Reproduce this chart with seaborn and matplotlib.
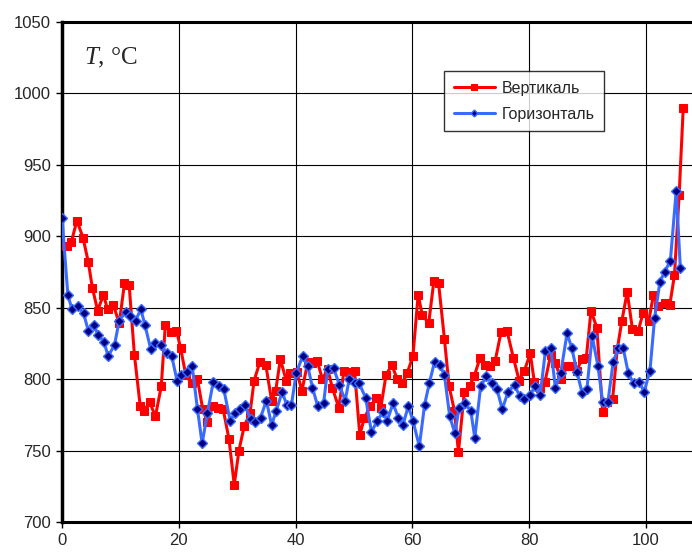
import matplotlib
matplotlib.use("Agg")
import matplotlib.pyplot as plt
import seaborn as sns
import pandas as pd

# Вертикаль: position and temperature
vert_x = [0, 0.9, 1.6, 2.55, 3.6, 4.5, 5.2, 6.1, 7.1, 7.8,
          8.8, 9.8, 10.7, 11.5, 12.4, 13.4, 14.1, 15.0, 16.0, 17.0,
          17.7, 18.6, 19.6, 20.3, 21.2, 22.2, 23.2, 24.1, 24.9, 25.8,
          26.8, 27.6, 28.6, 29.5, 30.3, 31.2, 32.2, 32.9, 33.9, 34.9,
          35.9, 36.6, 37.4, 38.4, 39.1, 40.2, 41.1, 42.1, 42.8, 43.7,
          44.6, 45.5, 46.3, 47.4, 48.3, 49.2, 50.1, 51.0, 51.8, 52.8,
          53.8, 54.6, 55.5, 56.5, 57.4, 58.3, 59.1, 60.1, 61.0, 61.7,
          62.8, 63.7, 64.5, 65.5, 66.3, 67.2, 67.9, 68.9, 69.8, 70.6,
          71.6, 72.5, 73.3, 74.2, 75.2, 76.2, 77.3, 78.3, 79.2, 80.2,
          80.9, 81.8, 82.7, 83.7, 84.5, 85.5, 86.5, 87.4, 88.2, 89.0,
          89.8, 90.6, 91.6, 92.6, 93.4, 94.3, 95.1, 95.9, 96.8, 97.7,
          98.7, 99.5, 100.5, 101.3, 102.0, 103.2, 104.1, 104.9, 105.7, 106.4]
vert_t = [893, 893, 896, 911, 899, 882, 864, 848, 859, 849,
          852, 839, 867, 866, 817, 781, 778, 784, 774, 795,
          838, 833, 834, 822, 803, 797, 800, 779, 770, 781,
          780, 779, 758, 726, 750, 767, 776, 799, 812, 810,
          785, 792, 814, 799, 804, 805, 792, 812, 811, 813,
          800, 807, 794, 780, 806, 805, 806, 761, 773, 781,
          787, 780, 803, 810, 800, 797, 804, 816, 859, 845,
          839, 869, 867, 828, 795, 778, 749, 791, 795, 802,
          815, 810, 809, 813, 833, 834, 815, 799, 806, 818,
          798, 794, 798, 817, 811, 800, 809, 809, 806, 814,
          815, 848, 836, 777, 784, 786, 821, 841, 861, 835,
          834, 846, 841, 859, 851, 853, 852, 873, 929, 990]

# Горизонталь: position and temperature
horiz_x = [0, 1.0, 1.7, 2.7, 3.7, 4.5, 5.4, 6.2, 7.2, 7.9,
           9.0, 9.8, 10.9, 11.6, 12.6, 13.5, 14.2, 15.2, 16.0, 17.0,
           17.9, 18.8, 19.7, 20.4, 21.4, 22.3, 23.2, 24.0, 24.9, 25.9,
           26.9, 27.7, 28.8, 29.6, 30.5, 31.3, 32.3, 33.0, 34.0, 35.0,
           35.9, 36.7, 37.7, 38.5, 39.3, 40.1, 41.2, 42.1, 42.9, 43.8,
           44.8, 45.5, 46.5, 47.5, 48.5, 49.2, 50.1, 50.9, 52.0, 53.0,
           54.0, 55.0, 55.7, 56.7, 57.6, 58.4, 59.3, 60.1, 61.2, 62.1,
           62.9, 63.8, 64.7, 65.5, 66.4, 67.3, 68.0, 69.0, 70.0, 70.7,
           71.7, 72.7, 73.6, 74.5, 75.4, 76.4, 77.5, 78.4, 79.2, 80.2,
           81.0, 81.9, 82.8, 83.7, 84.5, 85.4, 86.5, 87.3, 88.2, 89.1,
           89.9, 90.8, 91.8, 92.6, 93.5, 94.4, 95.3, 96.1, 97.0, 97.9,
           98.9, 99.7, 100.7, 101.5, 102.4, 103.2, 104.2, 105.2, 105.9]
horiz_t = [913, 859, 849, 851, 846, 834, 838, 831, 826, 816,
           824, 841, 847, 844, 841, 849, 838, 821, 825, 824,
           818, 816, 799, 803, 805, 809, 779, 755, 776, 798,
           795, 793, 771, 776, 779, 782, 772, 770, 773, 785,
           768, 778, 791, 782, 782, 804, 816, 809, 794, 781,
           783, 807, 808, 796, 785, 800, 797, 797, 787, 763,
           771, 777, 771, 783, 773, 768, 781, 771, 753, 782,
           797, 812, 810, 803, 774, 762, 780, 783, 778, 759,
           795, 802, 797, 793, 779, 791, 796, 788, 786, 789,
           795, 789, 820, 822, 794, 804, 832, 822, 805, 790,
           793, 830, 809, 784, 784, 812, 822, 822, 804, 797,
           798, 791, 806, 843, 868, 875, 883, 932, 878]

x_ticks = [0, 20, 40, 60, 80, 100]
y_ticks = [700, 750, 800, 850, 900, 950, 1000, 1050]

sns.set_style("white")
plt.rcParams["font.family"] = ["Liberation Sans", "DejaVu Sans"]
plt.rcParams["mathtext.fontset"] = "custom"
plt.rcParams["mathtext.it"] = "Liberation Serif:italic"
plt.rcParams["mathtext.rm"] = "Liberation Serif"

df_v = pd.DataFrame({"x": vert_x, "t": vert_t})
df_h = pd.DataFrame({"x": horiz_x, "t": horiz_t})

fig = plt.figure(figsize=(6.92, 5.56), dpi=100)
ax = fig.add_axes([62 / 692, 1 - 522 / 556, 630 / 692, 500 / 556])

sns.lineplot(data=df_v, x="x", y="t", ax=ax, sort=False, estimator=None,
             color="#ff0000", linewidth=2.2, marker="s", markersize=6.3,
             markeredgecolor="#ff0000", markerfacecolor="#ff0000",
             label="Вертикаль", zorder=3)
sns.lineplot(data=df_h, x="x", y="t", ax=ax, sort=False, estimator=None,
             color="#3a6bff", linewidth=2.2, marker="D", markersize=5,
             markeredgecolor="#3a6bff", markerfacecolor="#000080",
             markeredgewidth=1.0, label="Горизонталь", zorder=4)

ax.set_xlim(0, 107.9)
ax.set_ylim(700, 1050)
ax.set_xticks(x_ticks)
ax.set_yticks(y_ticks)
ax.set_xlabel("")
ax.set_ylabel("")
ax.grid(True, color="black", linewidth=0.8, zorder=0)
ax.set_axisbelow(True)
ax.tick_params(axis="both", which="major", direction="out", length=4,
               width=1, color="black", labelsize=12, pad=4,
               left=True, bottom=True)
for side in ("left", "bottom", "top"):
    ax.spines[side].set_visible(True)
    ax.spines[side].set_color("black")
ax.spines["left"].set_linewidth(2.5)
ax.spines["bottom"].set_linewidth(2.2)
ax.spines["top"].set_linewidth(2.2)
ax.spines["right"].set_visible(False)

fig.text(84 / 692, 1 - 64 / 556, r"$T$, °C", fontsize=18,
         family="Liberation Serif", ha="left", va="baseline")

leg = ax.legend(loc="upper left", bbox_to_anchor=(444 / 692, 1 - 71 / 556),
                bbox_transform=fig.transFigure, frameon=True, fancybox=False,
                fontsize=11.5, handlelength=2.6, borderpad=0.6,
                labelspacing=0.7, handletextpad=0.4, borderaxespad=0,
                markerscale=0.7)
leg.get_frame().set_edgecolor("black")
leg.get_frame().set_linewidth(1.0)

fig.savefig("out.png", dpi=100)
